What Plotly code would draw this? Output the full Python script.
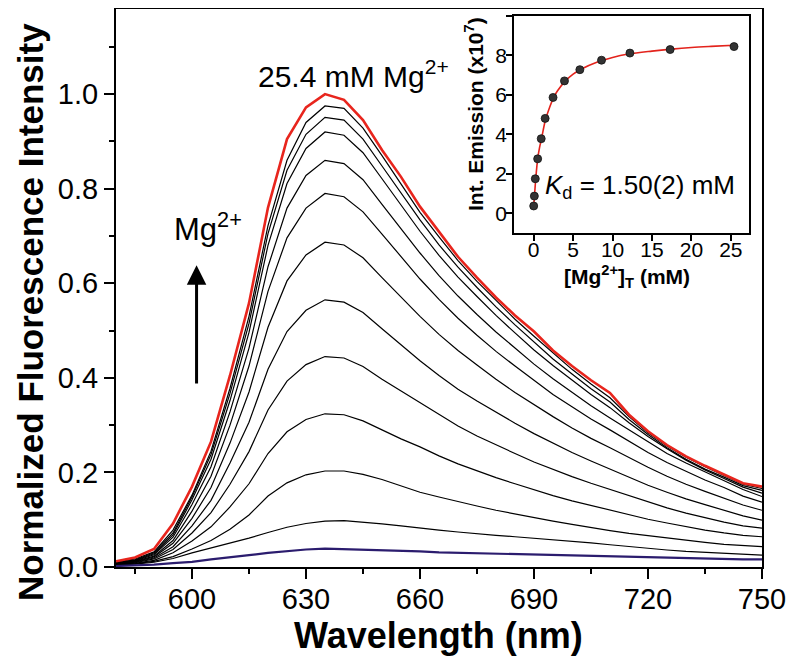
import plotly.graph_objects as go

# emission spectra, normalized (every 5 nm)
wavelength = [580, 585, 590, 595, 600, 605, 610, 615, 620, 625, 630, 635, 640, 645, 650, 655, 660, 665,
              670, 675, 680, 685, 690, 695, 700, 705, 710, 715, 720, 725, 730, 735, 740, 745, 750]

spec_0 = [0.002, 0.003, 0.005, 0.008, 0.011, 0.016, 0.020, 0.025, 0.030, 0.034, 0.037, 0.039, 0.038, 0.037, 0.035, 0.034, 0.033, 0.031,
          0.030, 0.029, 0.028, 0.027, 0.026, 0.025, 0.024, 0.023, 0.022, 0.021, 0.020, 0.019, 0.019, 0.018, 0.017, 0.016, 0.016]
spec_1 = [0.004, 0.006, 0.010, 0.018, 0.030, 0.040, 0.050, 0.061, 0.073, 0.084, 0.092, 0.097, 0.098, 0.095, 0.091, 0.087, 0.082, 0.078,
          0.074, 0.070, 0.067, 0.064, 0.061, 0.057, 0.054, 0.051, 0.047, 0.043, 0.039, 0.036, 0.033, 0.031, 0.029, 0.027, 0.025]
spec_2 = [0.005, 0.007, 0.012, 0.022, 0.038, 0.056, 0.080, 0.110, 0.150, 0.178, 0.195, 0.203, 0.203, 0.196, 0.185, 0.172, 0.158, 0.148,
          0.138, 0.129, 0.120, 0.112, 0.104, 0.097, 0.090, 0.083, 0.077, 0.071, 0.066, 0.061, 0.056, 0.052, 0.048, 0.045, 0.043]
spec_3 = [0.005, 0.008, 0.014, 0.030, 0.055, 0.085, 0.127, 0.176, 0.240, 0.286, 0.312, 0.324, 0.322, 0.309, 0.290, 0.271, 0.254, 0.235,
          0.218, 0.203, 0.189, 0.176, 0.163, 0.151, 0.140, 0.130, 0.120, 0.110, 0.101, 0.093, 0.085, 0.078, 0.072, 0.067, 0.064]
spec_4 = [0.006, 0.009, 0.017, 0.037, 0.072, 0.115, 0.175, 0.244, 0.332, 0.393, 0.428, 0.445, 0.442, 0.424, 0.397, 0.372, 0.348, 0.322,
          0.298, 0.277, 0.258, 0.240, 0.222, 0.206, 0.191, 0.177, 0.164, 0.150, 0.137, 0.125, 0.114, 0.104, 0.095, 0.087, 0.082]
spec_5 = [0.006, 0.010, 0.019, 0.043, 0.087, 0.141, 0.220, 0.306, 0.418, 0.498, 0.543, 0.565, 0.560, 0.538, 0.504, 0.470, 0.436, 0.405,
          0.376, 0.351, 0.327, 0.304, 0.282, 0.262, 0.242, 0.224, 0.207, 0.190, 0.173, 0.158, 0.144, 0.132, 0.120, 0.108, 0.099]
spec_6 = [0.007, 0.011, 0.021, 0.050, 0.103, 0.168, 0.262, 0.370, 0.507, 0.605, 0.660, 0.687, 0.681, 0.654, 0.612, 0.571, 0.530, 0.492,
          0.458, 0.427, 0.397, 0.369, 0.343, 0.318, 0.294, 0.272, 0.252, 0.231, 0.211, 0.192, 0.175, 0.160, 0.146, 0.131, 0.120]
spec_7 = [0.007, 0.012, 0.023, 0.056, 0.118, 0.192, 0.300, 0.425, 0.583, 0.696, 0.759, 0.790, 0.783, 0.751, 0.704, 0.657, 0.609, 0.566,
          0.526, 0.490, 0.456, 0.425, 0.394, 0.365, 0.339, 0.313, 0.290, 0.266, 0.242, 0.221, 0.202, 0.184, 0.168, 0.150, 0.137]
spec_8 = [0.008, 0.013, 0.026, 0.063, 0.132, 0.212, 0.328, 0.463, 0.635, 0.759, 0.828, 0.860, 0.853, 0.819, 0.767, 0.715, 0.664, 0.616,
          0.573, 0.534, 0.497, 0.463, 0.429, 0.398, 0.369, 0.341, 0.315, 0.290, 0.264, 0.240, 0.220, 0.201, 0.183, 0.164, 0.149]
spec_9 = [0.008, 0.014, 0.028, 0.068, 0.142, 0.228, 0.352, 0.496, 0.680, 0.811, 0.885, 0.920, 0.913, 0.876, 0.821, 0.765, 0.710, 0.659,
          0.613, 0.572, 0.532, 0.495, 0.459, 0.426, 0.395, 0.365, 0.337, 0.305, 0.276, 0.250, 0.226, 0.205, 0.187, 0.169, 0.156]
spec_10 = [0.009, 0.015, 0.030, 0.072, 0.148, 0.238, 0.367, 0.515, 0.705, 0.839, 0.915, 0.951, 0.945, 0.905, 0.848, 0.791, 0.734, 0.681,
           0.634, 0.591, 0.550, 0.512, 0.475, 0.440, 0.408, 0.377, 0.349, 0.312, 0.280, 0.252, 0.228, 0.207, 0.190, 0.172, 0.162]
spec_11 = [0.010, 0.017, 0.032, 0.078, 0.152, 0.245, 0.378, 0.530, 0.722, 0.860, 0.940, 0.975, 0.970, 0.928, 0.870, 0.811, 0.750, 0.698,
           0.648, 0.604, 0.563, 0.524, 0.488, 0.452, 0.418, 0.387, 0.358, 0.318, 0.284, 0.256, 0.232, 0.212, 0.193, 0.175, 0.166]
spec_max = [0.012, 0.020, 0.038, 0.092, 0.170, 0.265, 0.405, 0.558, 0.760, 0.905, 0.972, 1.000, 0.988, 0.945, 0.882, 0.825, 0.762, 0.708,
            0.656, 0.612, 0.570, 0.532, 0.498, 0.458, 0.425, 0.395, 0.368, 0.322, 0.287, 0.258, 0.234, 0.214, 0.196, 0.177, 0.170]

# inset: integrated emission vs total Mg2+
mg_conc = [0, 0.08, 0.2, 0.5, 0.95, 1.45, 2.45, 3.9, 5.85, 8.6, 12.2, 17.3, 25.4]
int_emission = [0.37, 0.87, 1.75, 2.76, 3.78, 4.81, 5.87, 6.71, 7.28, 7.76, 8.12, 8.30, 8.45]
fit_x = [0, 0.05, 0.1, 0.2, 0.3, 0.5, 0.75, 1.0, 1.5, 2.0, 2.5, 3.0, 4.0, 5.0, 6.0, 8.0, 10, 12, 15, 17.5, 20, 22.5, 25.4]
fit_y = [0.35, 0.62, 0.9, 1.45, 1.95, 2.75, 3.35, 3.8, 4.75, 5.35, 5.85, 6.2, 6.7, 7.05, 7.3, 7.65, 7.9, 8.07, 8.22, 8.32, 8.4, 8.46, 8.52]

x_ticks = [600, 630, 660, 690, 720, 750]
x_minor = [585, 615, 645, 675, 705, 735]
y_ticks = [0.0, 0.2, 0.4, 0.6, 0.8, 1.0]
y_minor = [0.1, 0.3, 0.5, 0.7, 0.9, 1.1]

FONT = "Liberation Sans, Arial, sans-serif"
# the page body has an 8px margin, so the figure is 8px smaller than the window
OFF = 8
W, H = 800 - OFF, 662 - OFF


def px(x):
    return (x - OFF) / W


def py(y):
    return 1 - (y - OFF) / H


fig = go.Figure()
for s in [spec_1, spec_2, spec_3, spec_4, spec_5, spec_6, spec_7, spec_8, spec_9, spec_10, spec_11]:
    fig.add_trace(go.Scatter(x=wavelength, y=s, mode="lines", line=dict(color="black", width=1.2),
                             showlegend=False, hoverinfo="skip"))
fig.add_trace(go.Scatter(x=wavelength, y=spec_0, mode="lines", line=dict(color="#2b1c6e", width=2.2), showlegend=False))
fig.add_trace(go.Scatter(x=wavelength, y=spec_max, mode="lines", line=dict(color="#e8251d", width=2.6), showlegend=False))

# inset
fig.add_trace(go.Scatter(x=fit_x, y=fit_y, mode="lines", line=dict(color="#e3231c", width=1.6, shape="spline"),
                         xaxis="x2", yaxis="y2", showlegend=False))
fig.add_trace(go.Scatter(x=mg_conc, y=int_emission, mode="markers",
                         marker=dict(size=8, color="#333333", line=dict(color="#111111", width=0.8)),
                         xaxis="x2", yaxis="y2", showlegend=False))

axis_style = dict(showline=True, linecolor="black", mirror=True, showgrid=False, zeroline=False,
                  ticks="outside", tickcolor="black", automargin=False)

fig.update_layout(
    width=W, height=H, margin=dict(l=0, r=0, t=0, b=0),
    paper_bgcolor="white", plot_bgcolor="white",
    font=dict(family=FONT, color="black"),
    xaxis=dict(axis_style, domain=[px(116), px(762)], range=[580, 750], tickvals=x_ticks,
               ticklen=10, tickwidth=2, linewidth=2, tickfont=dict(size=29), ticklabelstandoff=-5,
               minor=dict(tickvals=x_minor, ticklen=5, tickwidth=2, ticks="outside", tickcolor="black"), anchor="y"),
    yaxis=dict(axis_style, domain=[py(567), py(9)], range=[0, 1.18], tickvals=y_ticks,
               ticktext=["%.1f" % v for v in y_ticks], ticklen=10, tickwidth=2, linewidth=2, tickfont=dict(size=29),
               minor=dict(tickvals=y_minor, ticklen=5, tickwidth=2, ticks="outside", tickcolor="black"), anchor="x"),
    xaxis2=dict(axis_style, domain=[px(514), px(749)], range=[-2.5, 27.3], tickvals=[0, 5, 10, 15, 20, 25],
                ticklen=6, tickwidth=1.5, linewidth=1.5, tickfont=dict(size=21), ticklabelstandoff=-9, anchor="y2"),
    yaxis2=dict(axis_style, domain=[py(233), py(16)], range=[-1, 10], tickvals=[0, 2, 4, 6, 8, 10],
                ticklen=6, tickwidth=1.5, linewidth=1.5, tickfont=dict(size=21), ticklabelstandoff=-5, anchor="x2"),
)

ann = [
    dict(text="<b>Wavelength (nm)</b>", x=px(438), y=py(635), font=dict(size=36)),
    dict(text="<b>Normalized Fluorescence Intensity</b>", x=px(31), y=py(312), textangle=-90, font=dict(size=35)),
    dict(text="25.4 mM Mg<sup>2+</sup>", x=px(256), y=py(74), xanchor="left", font=dict(size=30)),
    dict(text="Mg<sup>2+</sup>", x=px(172), y=py(227), xanchor="left", font=dict(size=31)),
    dict(text="<i>K</i><sub>d</sub> = 1.50(2) mM", x=px(543), y=py(186), xanchor="left", font=dict(size=26)),
    dict(text="<b>Int. Emission (x10<sup>7</sup>)</b>", x=px(474), y=py(114), textangle=-90, font=dict(size=21)),
    dict(text="<b>[Mg<sup>2+</sup>]<sub>T</sub> (mM)</b>", x=px(627), y=py(276), font=dict(size=21)),
]
for a in ann:
    fig.add_annotation(xref="paper", yref="paper", showarrow=False, yanchor="middle",
                       **{"xanchor": "center", **a})

# arrow showing increasing Mg2+
fig.add_annotation(x=601.2, y=0.638, ax=601.2, ay=0.385, xref="x", yref="y", axref="x", ayref="y",
                   text="", showarrow=True, arrowhead=2, arrowsize=1.3, arrowwidth=3, arrowcolor="black")

fig.write_html("out.html")
